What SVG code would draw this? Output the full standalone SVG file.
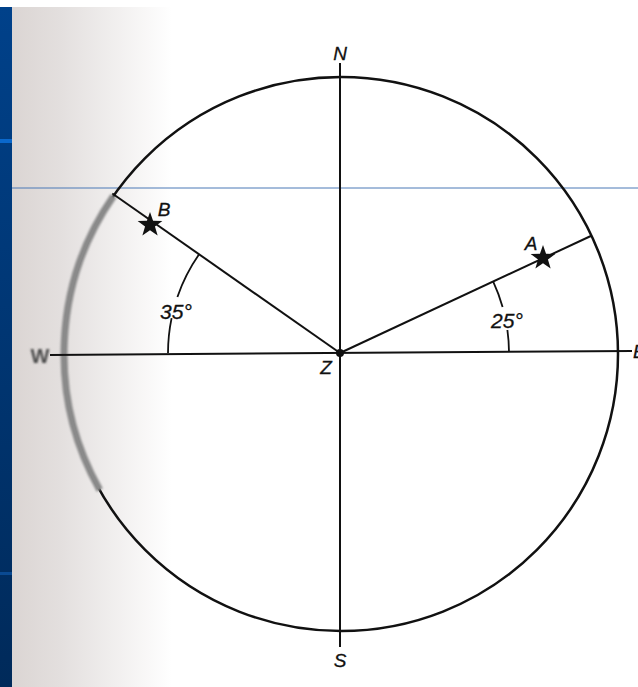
<svg xmlns="http://www.w3.org/2000/svg" width="638" height="687" viewBox="0 0 638 687">
  <style>
    .lbl { font-family: "Liberation Sans", Arial, sans-serif; font-style: italic; font-size: 19px; fill: #111; stroke: #111; stroke-width: 0.3; }
    .ang { font-size: 21px; }
    .ln { stroke: #111; stroke-width: 2; fill: none; stroke-linecap: butt; }
    .arc { stroke: #111; stroke-width: 1.8; fill: none; }
  </style>
  <defs>
    <linearGradient id="shade" x1="0" y1="0" x2="1" y2="0">
      <stop offset="0" stop-color="#dbd5d3"/>
      <stop offset="0.3" stop-color="#e3dfde"/>
      <stop offset="1" stop-color="#ffffff"/>
    </linearGradient>
    <linearGradient id="bar" x1="0" y1="0" x2="0" y2="1">
      <stop offset="0" stop-color="#00418a"/>
      <stop offset="1" stop-color="#002a5a"/>
    </linearGradient>
    <filter id="blur" x="-20%" y="-20%" width="140%" height="140%">
      <feGaussianBlur stdDeviation="1.2"/>
    </filter>
    <path id="star" d="M0,-13 L3.06,-4.21 L12.36,-4.02 L4.95,1.61 L7.64,10.52 L0,5.2 L-7.64,10.52 L-4.95,1.61 L-12.36,-4.02 L-3.06,-4.21 Z" fill="#111"/>
  </defs>

  <!-- background -->
  <rect x="0" y="0" width="638" height="687" fill="#ffffff"/>
  <rect x="12" y="7" width="160" height="680" fill="url(#shade)"/>
  <rect x="0" y="7" width="12" height="680" fill="url(#bar)"/>
  <rect x="0" y="139" width="12" height="4" fill="#0a68cc"/>
  <rect x="0" y="572" width="12" height="3" fill="#0a4a92"/>
  <line x1="12" y1="188" x2="638" y2="188" stroke="#4a78b6" stroke-width="1"/>

  <!-- horizon circle -->
  <g id="horizon">
    <circle cx="341" cy="354" r="277" fill="none" stroke="#111" stroke-width="2.5"/>
    <path d="M113.5,196 A277,277 0 0 0 99.7,490" fill="none" stroke="#8a8a8a" stroke-width="7" filter="url(#blur)"/>
  </g>

  <g id="connectors">
    <line class="ln" x1="340" y1="63" x2="340" y2="647"/>
    <line class="ln" x1="50" y1="355" x2="632" y2="351"/>
    <line class="ln" x1="340" y1="353" x2="112.3" y2="193.5"/>
    <line class="ln" x1="340" y1="353" x2="591.9" y2="235.5"/>
    <!-- 35 deg arc -->
    <path class="arc" d="M199.1,254.3 A172,172 0 0 0 177.4,297"/>
    <path class="arc" d="M171.6,318.1 A172,172 0 0 0 168,353"/>
    <!-- 25 deg arc -->
    <path class="arc" d="M493.2,281.6 A169,169 0 0 1 502.6,307"/>
    <path class="arc" d="M507.4,330 A169,169 0 0 1 509,352"/>
  </g>

  <g id="N"><text class="lbl" x="340" y="60" text-anchor="middle">N</text></g>
  <g id="S"><text class="lbl" x="340" y="667" text-anchor="middle">S</text></g>
  <g id="W"><text x="40" y="363" text-anchor="middle" font-family="Liberation Sans, Arial, sans-serif" font-weight="bold" font-size="20" fill="#4a4a4a" filter="url(#blur)">W</text></g>
  <g id="E"><text class="lbl" x="633" y="358">E</text></g>
  <g id="Z">
    <circle cx="340" cy="353" r="4" fill="#111"/>
    <text class="lbl" x="326" y="374" text-anchor="middle">Z</text>
  </g>
  <g id="A">
    <use href="#star" x="543" y="258"/>
    <text class="lbl" x="531" y="250" text-anchor="middle">A</text>
  </g>
  <g id="B">
    <use href="#star" x="150" y="225"/>
    <text class="lbl" x="164" y="216" text-anchor="middle">B</text>
  </g>
  <g id="angle35"><text class="lbl ang" x="176" y="319" text-anchor="middle">35°</text></g>
  <g id="angle25"><text class="lbl ang" x="507" y="328" text-anchor="middle">25°</text></g>
</svg>
